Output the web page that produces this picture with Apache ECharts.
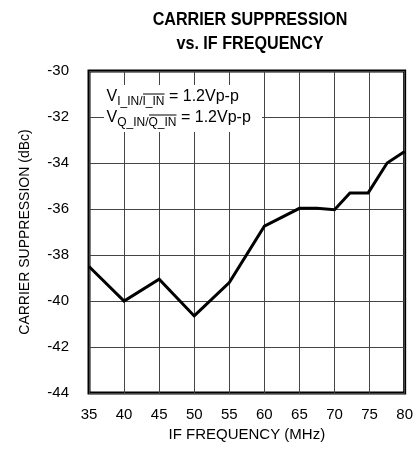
<!DOCTYPE html>
<html><head><meta charset="utf-8">
<script src="https://cdn.jsdelivr.net/npm/echarts@6/dist/echarts.min.js"></script>
<style>html,body{margin:0;padding:0;background:#fff}#c{width:416px;height:452px}</style>
</head><body><div id="c"></div>
<script>
var freqMHz = [35, 40, 45, 50, 55, 60, 65, 67.5, 70, 72.2, 74.8, 77.5, 80];
var suppressionDbc = [-38.5, -40.0, -39.05, -40.65, -39.2, -36.75, -35.97, -35.97, -36.03, -35.3, -35.3, -34.0, -33.5];
var xTicks = [35, 40, 45, 50, 55, 60, 65, 70, 75, 80];
var yTicks = [-44, -42, -40, -38, -36, -34, -32, -30];
var titleLines = ['CARRIER SUPPRESSION', 'vs. IF FREQUENCY'];
var noteLines = [
  {v: 'V', sub1: 'I_IN/', sub2: 'I_IN', rest: ' = 1.2Vp-p'},
  {v: 'V', sub1: 'Q_IN/', sub2: 'Q_IN', rest: ' = 1.2Vp-p'}
];

var F = '"Liberation Sans", Arial, sans-serif';
var cv = document.createElement('canvas').getContext('2d');
function tw(t, size) { cv.font = size + 'px ' + F; return cv.measureText(t).width; }

var chart = echarts.init(document.getElementById('c'), null, {renderer: 'canvas'});
var data = freqMHz.map(function (f, i) { return [f, suppressionDbc[i]]; });

var graphics = [];
// title (condensed look via horizontal scale)
titleLines.forEach(function (t, i) {
  graphics.push({type: 'text', x: 250, y: 19.3 + i * 24.3, scaleX: 0.85, z: 20,
    style: {text: t, font: 'bold 19px ' + F, fill: '#000', align: 'center', verticalAlign: 'middle'}});
});
// annotation box
graphics.push({type: 'rect', shape: {x: 104, y: 85, width: 158, height: 47}, style: {fill: '#fff'}, z: 10});
var MAIN = 16, SUB = 12;
noteLines.forEach(function (ln, i) {
  var x0 = 106.5, yMain = 97 + i * 21, ySub = yMain + 4.5;
  var x = x0;
  graphics.push({type: 'text', x: x, y: yMain, z: 11, style: {text: ln.v, font: MAIN + 'px ' + F, fill: '#000', verticalAlign: 'middle'}});
  x += tw(ln.v, MAIN);
  graphics.push({type: 'text', x: x, y: ySub, z: 11, style: {text: ln.sub1 + ln.sub2, font: SUB + 'px ' + F, fill: '#000', verticalAlign: 'middle'}});
  var ox1 = x + tw(ln.sub1, SUB), ox2 = ox1 + tw(ln.sub2, SUB);
  graphics.push({type: 'line', z: 12, shape: {x1: ox1 + 0.5, y1: ySub - 7.5, x2: ox2, y2: ySub - 7.5}, style: {stroke: '#000', lineWidth: 1}});
  x = ox2;
  graphics.push({type: 'text', x: x, y: yMain, z: 11, style: {text: ln.rest, font: MAIN + 'px ' + F, fill: '#000', verticalAlign: 'middle'}});
});

chart.setOption({
  animation: false,
  backgroundColor: '#fff',
  grid: {left: 89, right: 4, top: 71, bottom: 59, show: true, borderColor: '#000', borderWidth: 3, backgroundColor: 'transparent'},
  xAxis: {
    type: 'value', min: 35, max: 80, interval: 5,
    name: 'IF FREQUENCY (MHz)', nameLocation: 'middle', nameGap: 32,
    nameTextStyle: {fontFamily: F, fontSize: 15, color: '#000'},
    axisLine: {show: false}, axisTick: {show: false},
    axisLabel: {fontFamily: F, fontSize: 15, color: '#000', margin: 14, showMaxLabel: true, showMinLabel: true,
      formatter: function (v) { return xTicks.indexOf(v) >= 0 ? String(v) : ''; }},
    splitLine: {show: true, lineStyle: {color: '#444', width: 1}}
  },
  yAxis: {
    type: 'value', min: -44, max: -30, interval: 2,
    name: 'CARRIER SUPPRESSION (dBc)', nameLocation: 'middle', nameGap: 57, nameRotate: 90,
    nameTextStyle: {fontFamily: F, fontSize: 14, color: '#000'},
    axisLine: {show: false}, axisTick: {show: false},
    axisLabel: {fontFamily: F, fontSize: 15, color: '#000', margin: 20,
      formatter: function (v) { return yTicks.indexOf(v) >= 0 ? String(v) : ''; }},
    splitLine: {show: true, lineStyle: {color: '#444', width: 1}}
  },
  series: [{
    type: 'line', data: data, symbol: 'none', z: 5,
    lineStyle: {color: '#000', width: 3, join: 'miter'}
  }],
  graphic: graphics
});
</script></body></html>
